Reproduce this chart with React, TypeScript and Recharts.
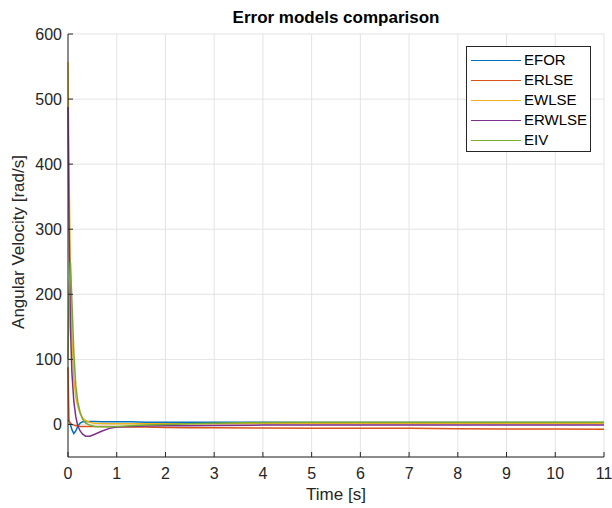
import { LineChart, Line, XAxis, YAxis, CartesianGrid, Legend } from 'recharts';

// sample times [s], dense near t=0 where the transients are
const time = [0, 0.02, 0.05, 0.08, 0.12, 0.16, 0.2, 0.25, 0.3, 0.36, 0.45, 0.55, 0.7, 0.85, 1, 1.3, 1.6, 2, 2.5, 3, 4, 5, 6, 7, 8, 9, 10, 11];

const efor = [5, 6, 0, -8, -14, -10, -3, 2, 4, 4, 4.5, 4.5, 4, 4, 4, 4, 3.5, 3.5, 3.5, 3.5, 3.5, 3, 3, 3, 3, 3, 3, 3];
const erlse = [88, 5, 2, 0, -1, -2, -2, -3, -3, -3, -3, -3, -3, -3, -3.5, -4, -4, -4.5, -5, -5, -5.5, -6, -6, -6, -6.5, -7, -7, -7.5];
const ewlse = [557, 400, 230, 135, 70, 42, 28, 17, 10, 6, 3, 2, 1.5, 1, 1, 1, 1, 1, 1, 1, 1.5, 1.5, 1.5, 1.5, 1.5, 1.5, 1.5, 1.5];
const erwlse = [488, 320, 150, 80, 35, 12, -2, -10, -15, -18, -18, -15, -10, -6, -4, -3, -2.5, -2, -2, -1.5, -1, -1, -1, -1, -1, -1, -1, -1];
const eiv = [100, 200, 250, 190, 110, 60, 35, 18, 8, 2, -1, -3, -3.5, -3.5, -3, -2, -1, 0, 1, 2, 3, 3.5, 3.5, 3.5, 3.5, 3.5, 3.5, 3.5];

const xTicks = [0, 1, 2, 3, 4, 5, 6, 7, 8, 9, 10, 11];
const yTicks = [0, 100, 200, 300, 400, 500, 600];

const series = [
  { key: 'EFOR', values: efor, color: '#0072BD' },
  { key: 'ERLSE', values: erlse, color: '#D95319' },
  { key: 'EWLSE', values: ewlse, color: '#EDB120' },
  { key: 'ERWLSE', values: erwlse, color: '#7E2F8E' },
  { key: 'EIV', values: eiv, color: '#77AC30' },
];

const data = time.map((t, i) => {
  const row: Record<string, number> = { t };
  series.forEach((s) => { row[s.key] = s.values[i]; });
  return row;
});

const FONT = '"Liberation Sans", Arial, Helvetica, sans-serif';
const INK = '#262626';
const tickStyle = { fontSize: 16, fontFamily: FONT, fill: INK };

// legend in series order (recharts sorts the payload by name)
function LegendBox() {
  return (
    <div style={{ border: `1px solid ${INK}`, background: '#fff', padding: '3px 0 3px 4px', boxSizing: 'border-box', width: 125, height: 106 }}>
      {series.map((s) => (
        <div key={s.key} style={{ display: 'flex', alignItems: 'center', height: 20 }}>
          <div style={{ width: 50, height: 0, borderTop: `1.5px solid ${s.color}` }} />
          <span style={{ marginLeft: 3, fontFamily: FONT, fontSize: 15, color: '#000', lineHeight: '20px' }}>{s.key}</span>
        </div>
      ))}
    </div>
  );
}

export default function App() {
  return (
    <div style={{ position: 'absolute', left: 0, top: 0, width: 612, height: 508, background: '#fff' }}>
      <LineChart width={612} height={508} data={data} margin={{ top: 34, right: 8, bottom: 0, left: 0 }}>
        <CartesianGrid stroke="#e3e3e3" strokeWidth={1} xAxisId={0} yAxisId={0} />
        <XAxis
          dataKey="t"
          type="number"
          domain={[0, 11]}
          ticks={xTicks}
          height={51}
          tick={tickStyle}
          tickSize={-5}
          tickMargin={16}
          axisLine={{ stroke: INK }}
          tickLine={{ stroke: INK }}
        />
        <XAxis
          xAxisId="top"
          orientation="top"
          dataKey="t"
          type="number"
          domain={[0, 11]}
          ticks={xTicks}
          height={0}
          tick={false}
          tickSize={-5}
          axisLine={{ stroke: INK }}
          tickLine={{ stroke: INK }}
        />
        <YAxis
          type="number"
          domain={[-50, 600]}
          ticks={yTicks}
          width={68}
          tick={tickStyle}
          tickSize={-5}
          tickMargin={11}
          axisLine={{ stroke: INK }}
          tickLine={{ stroke: INK }}
        />
        <YAxis
          yAxisId="right"
          orientation="right"
          type="number"
          domain={[-50, 600]}
          ticks={yTicks}
          width={0}
          tick={false}
          tickSize={-5}
          axisLine={{ stroke: INK }}
          tickLine={{ stroke: INK }}
        />
        <Legend
          layout="vertical"
          align="center"
          verticalAlign="middle"
          content={<LegendBox />}
          wrapperStyle={{ left: 466, top: 46, width: 125, height: 106 }}
        />
        {series.map((s) => (
          <Line
            key={s.key}
            type="linear"
            dataKey={s.key}
            name={s.key}
            stroke={s.color}
            strokeWidth={1.5}
            dot={false}
            isAnimationActive={false}
          />
        ))}
      </LineChart>
      <div style={{ position: 'absolute', left: 336, top: 18, transform: 'translate(-50%, -50%)', fontFamily: FONT, fontSize: 17, fontWeight: 'bold', color: '#000', whiteSpace: 'nowrap' }}>
        Error models comparison
      </div>
      <div style={{ position: 'absolute', left: 336, top: 495, transform: 'translate(-50%, -50%)', fontFamily: FONT, fontSize: 17, color: INK, whiteSpace: 'nowrap' }}>
        Time [s]
      </div>
      <div style={{ position: 'absolute', left: 19, top: 242, transform: 'translate(-50%, -50%) rotate(-90deg)', fontFamily: FONT, fontSize: 17, color: INK, whiteSpace: 'nowrap' }}>
        Angular Velocity [rad/s]
      </div>
    </div>
  );
}
